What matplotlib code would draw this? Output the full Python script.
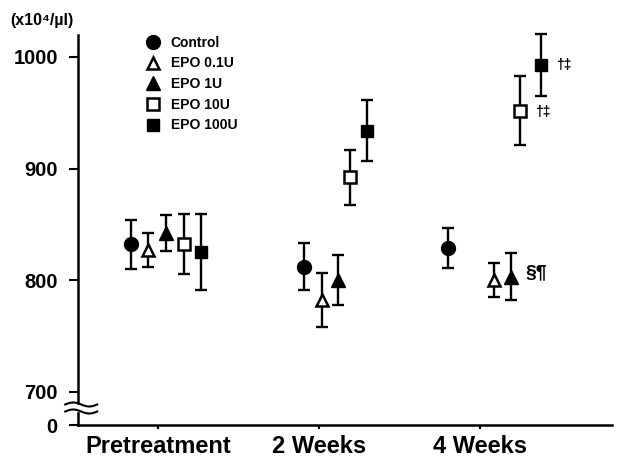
import numpy as np
import matplotlib
matplotlib.use('Agg')
import matplotlib.pyplot as plt
import matplotlib.transforms as mtransforms

plt.rcParams['font.family'] = ['Liberation Sans', 'DejaVu Sans']
plt.rcParams['font.weight'] = 'bold'

# data
groups = ['Pretreatment', '2 Weeks', '4 Weeks']
series = ['Control', 'EPO 0.1U', 'EPO 1U', 'EPO 10U', 'EPO 100U']
means = {
    'Control':  [832, 812, 829],
    'EPO 0.1U': [827, 782, 800],
    'EPO 1U':   [842, 800, 803],
    'EPO 10U':  [832, 892, 952],
    'EPO 100U': [825, 934, 993],
}
errs = {
    'Control':  [22, 21, 18],
    'EPO 0.1U': [15, 24, 15],
    'EPO 1U':   [16, 22, 21],
    'EPO 10U':  [27, 25, 31],
    'EPO 100U': [34, 27, 28],
}
# horizontal offsets of each series within a group
x_shift = {
    'Control':  [-0.17, -0.09, -0.20],
    'EPO 0.1U': [-0.06, 0.02, 0.09],
    'EPO 1U':   [0.05, 0.12, 0.19],
    'EPO 10U':  [0.16, 0.19, 0.25],
    'EPO 100U': [0.27, 0.30, 0.38],
}
styles = {
    'Control':  dict(marker='o', ms=10, mfc='black'),
    'EPO 0.1U': dict(marker='^', ms=8.5, mfc='white', mew=1.8),
    'EPO 1U':   dict(marker='^', ms=9.5, mfc='black'),
    'EPO 10U':  dict(marker='s', ms=8, mfc='white', mew=1.8),
    'EPO 100U': dict(marker='s', ms=9, mfc='black'),
}

fig = plt.figure(figsize=(6.23, 4.57), dpi=100)
ax = fig.add_axes([0.1252, 0.070, 0.857, 0.8534])

for s in series:
    x = np.arange(len(groups)) + np.array(x_shift[s])
    _, caps, bars = ax.errorbar(x, means[s], yerr=errs[s], fmt='none',
                                ecolor='black', elinewidth=1.7, capsize=4.5,
                                capthick=1.7, zorder=2)
    for artist in list(caps) + list(bars):
        artist.set_clip_on(False)
    ax.plot(x, means[s], ls='none', color='black', mec='black', label=s,
            zorder=3, clip_on=False, **styles[s])

# significance marks
ax.annotate('†‡', (2 + x_shift['EPO 100U'][2], means['EPO 100U'][2]),
            xytext=(11, 0), textcoords='offset points', va='center',
            fontsize=10, fontweight='bold')
ax.annotate('†‡', (2 + x_shift['EPO 10U'][2], means['EPO 10U'][2]),
            xytext=(11, -1), textcoords='offset points', va='center',
            fontsize=10, fontweight='bold')
ax.annotate('§¶', (2 + x_shift['EPO 1U'][2], means['EPO 1U'][2]),
            xytext=(11, 3), textcoords='offset points', va='center',
            fontsize=14, fontweight='bold')

ax.set_xlim(-0.497, 2.82)
ax.set_ylim(670, 1019.7)
ax.set_xticks(range(len(groups)))
ax.set_xticklabels(groups, fontsize=17, fontweight='bold')
ax.set_yticks([670, 700, 800, 900, 1000])
ax.set_yticklabels(['0', '700', '800', '900', '1000'], fontsize=14.5,
                   fontweight='bold')
ax.tick_params(axis='y', direction='out', length=6.5, width=1.5, pad=8)
ax.tick_params(axis='x', direction='out', length=3, width=1.5, pad=4)
for side in ['top', 'right']:
    ax.spines[side].set_visible(False)
for side in ['left', 'bottom']:
    ax.spines[side].set_linewidth(1.8)

# axis break on the y axis
trans = mtransforms.blended_transform_factory(ax.transAxes, ax.transData)
ax.fill_between([-0.01, 0.01], [682.5, 682.5], [688, 688], color='white',
                transform=trans, clip_on=False, zorder=5)
wx = np.linspace(-0.024, 0.036, 40)
for y0 in [688.4, 682.1]:
    wy = y0 + 1.8 * np.sin((wx + 0.024) / 0.06 * 2 * np.pi)
    ax.plot(wx, wy, color='black', lw=1.5, transform=trans, clip_on=False,
            zorder=6)

ax.text(-0.127, 1.038, '(x10⁴/µl)', transform=ax.transAxes, fontsize=11.5,
        fontweight='bold', va='center', ha='left')

leg = ax.legend(loc='upper left', bbox_to_anchor=(0.115, 1.016), frameon=False,
                handlelength=1.0, handletextpad=0.75, labelspacing=0.48,
                borderpad=0, prop={'size': 10, 'weight': 'bold'})

fig.savefig('out.png', dpi=100)
